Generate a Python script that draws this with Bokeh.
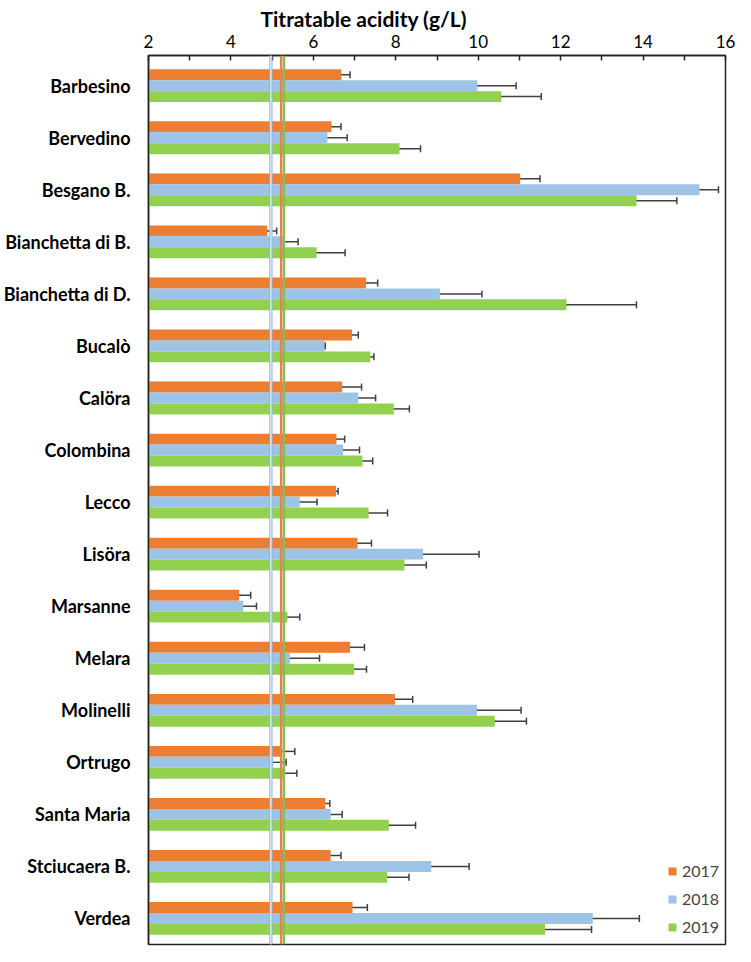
from bokeh.plotting import figure
from bokeh.models import (ColumnDataSource, Whisker, Span, FixedTicker, Range1d,
                          Legend, LegendItem, TeeHead, Title)
from bokeh.embed import file_html
from bokeh.resources import INLINE

# ---------------- data ----------------
cultivars = ["Barbesino", "Bervedino", "Besgano B.", "Bianchetta di B.", "Bianchetta di D.",
             "Bucalò", "Calöra", "Colombina", "Lecco", "Lisöra", "Marsanne", "Melara",
             "Molinelli", "Ortrugo", "Santa Maria", "Stciucaera B.", "Verdea"]
years = ["2017", "2018", "2019"]

ta_2017 = [6.68, 6.44, 11.02, 4.88, 7.28, 6.94, 6.70, 6.56, 6.55, 7.07, 4.20, 6.89, 7.98, 5.19, 6.29, 6.42, 6.95]
sd_2017 = [0.21, 0.23, 0.48, 0.23, 0.28, 0.15, 0.47, 0.20, 0.05, 0.34, 0.28, 0.35, 0.43, 0.36, 0.11, 0.25, 0.36]
ta_2018 = [9.98, 6.34, 15.37, 5.30, 9.07, 6.27, 7.09, 6.72, 5.67, 8.66, 4.30, 5.43, 9.97, 5.02, 6.42, 8.86, 12.78]
sd_2018 = [0.94, 0.48, 0.46, 0.33, 1.02, 0.02, 0.42, 0.40, 0.42, 1.36, 0.32, 0.72, 1.07, 0.32, 0.28, 0.92, 1.13]
ta_2019 = [10.56, 8.09, 13.84, 6.08, 12.14, 7.38, 7.95, 7.19, 7.34, 8.21, 5.37, 6.99, 10.40, 5.30, 7.83, 7.79, 11.62]
sd_2019 = [0.97, 0.51, 0.98, 0.69, 1.70, 0.09, 0.38, 0.25, 0.46, 0.53, 0.30, 0.30, 0.77, 0.30, 0.65, 0.53, 1.13]

# reference (mean) lines per year
ref_2017 = 5.22
ref_2018 = 4.97
ref_2019 = 5.29

x_ticks = [2, 4, 6, 8, 10, 12, 14, 16]
x_minor = [3, 5, 7, 9, 11, 13, 15]
title_text = "Titratable acidity (g/L)"

# ---------------- style ----------------
colors = {"2017": "#ED7D31", "2018": "#9DC3E6", "2019": "#92D050"}
offsets = {"2017": -0.21, "2018": 0.0, "2019": 0.21}
BAR_H = 0.21
FONT = "Lato"

p = figure(width=735, height=946, output_backend="svg", toolbar_location=None,
           x_axis_location="above", title_location=None,
           x_range=Range1d(x_ticks[0], x_ticks[-1]),
           y_range=Range1d(16.5, -0.58),
           min_border_left=146, min_border_right=10, min_border_top=55, min_border_bottom=2)

p.xgrid.visible = False
p.ygrid.visible = False
p.background_fill_color = "white"
p.border_fill_color = "white"
p.outline_line_color = "#222222"
p.outline_line_width = 1.5

series = {"2017": (ta_2017, sd_2017), "2018": (ta_2018, sd_2018), "2019": (ta_2019, sd_2019)}
renderers = {}
sources = {}
for yr in years:
    vals, sds = series[yr]
    ypos = [i + offsets[yr] for i in range(len(cultivars))]
    src = ColumnDataSource(dict(y=ypos, v=vals,
                                lo=[a - b for a, b in zip(vals, sds)],
                                hi=[a + b for a, b in zip(vals, sds)]))
    sources[yr] = src
    renderers[yr] = p.hbar(y="y", left=x_ticks[0], right="v", height=BAR_H, source=src,
                           fill_color=colors[yr], line_color=None)

# reference lines
for loc, col, w in [(ref_2018, "#8DB4DE", 3.2), (ref_2017, "#D9894F", 2.6), (ref_2019, "#86BE55", 2.2)]:
    p.add_layout(Span(location=loc, dimension="height", line_color=col, line_width=w))
p.add_layout(Span(location=ref_2018, dimension="height", line_color="white", line_width=1.0))

# error bars
for yr in years:
    w = Whisker(base="y", lower="lo", upper="hi", dimension="width", source=sources[yr],
                line_color="#404040", line_width=1.5,
                upper_head=TeeHead(size=7, line_color="#404040", line_width=1.5),
                lower_head=TeeHead(size=7, line_color="#404040", line_width=1.5))
    p.add_layout(w)

# x axis (top)
xa = p.xaxis[0]
xa.ticker = FixedTicker(ticks=x_ticks, minor_ticks=x_minor)
xa.major_tick_in = 5
xa.major_tick_out = 0
xa.minor_tick_in = 5
xa.minor_tick_out = 0
xa.axis_line_color = "#222222"
xa.axis_line_width = 1.5
xa.major_tick_line_color = "#222222"
xa.minor_tick_line_color = "#222222"
xa.major_tick_line_width = 1.5
xa.minor_tick_line_width = 1.5
xa.major_label_text_font = FONT
xa.major_label_text_font_size = "17px"
xa.major_label_text_color = "black"
xa.major_label_standoff = 8

# title above the axis, shifted left like the original
p.add_layout(Title(text=title_text, align="left", offset=112, standoff=2,
                   text_font=FONT, text_font_size="21px", text_font_style="bold",
                   text_color="black"), "above")

# y axis (left, categories)
ya = p.yaxis[0]
ya.ticker = FixedTicker(ticks=list(range(len(cultivars))))
ya.major_label_overrides = {i: c for i, c in enumerate(cultivars)}
ya.major_tick_in = 0
ya.major_tick_out = 0
ya.minor_tick_line_color = None
ya.axis_line_color = "#222222"
ya.axis_line_width = 1.5
ya.major_label_text_font = FONT
ya.major_label_text_font_size = "18px"
ya.major_label_text_font_style = "bold"
ya.major_label_text_color = "black"
ya.major_label_standoff = 18

legend = Legend(items=[LegendItem(label=yr, renderers=[renderers[yr]]) for yr in years],
                location=(519, 8), orientation="vertical",
                glyph_width=10, glyph_height=10, label_height=18, spacing=9,
                label_text_font=FONT, label_text_font_size="16px", label_standoff=5,
                padding=0, margin=0, border_line_color=None, background_fill_alpha=0)
p.add_layout(legend)

open("out.html", "w").write(file_html(p, INLINE))
